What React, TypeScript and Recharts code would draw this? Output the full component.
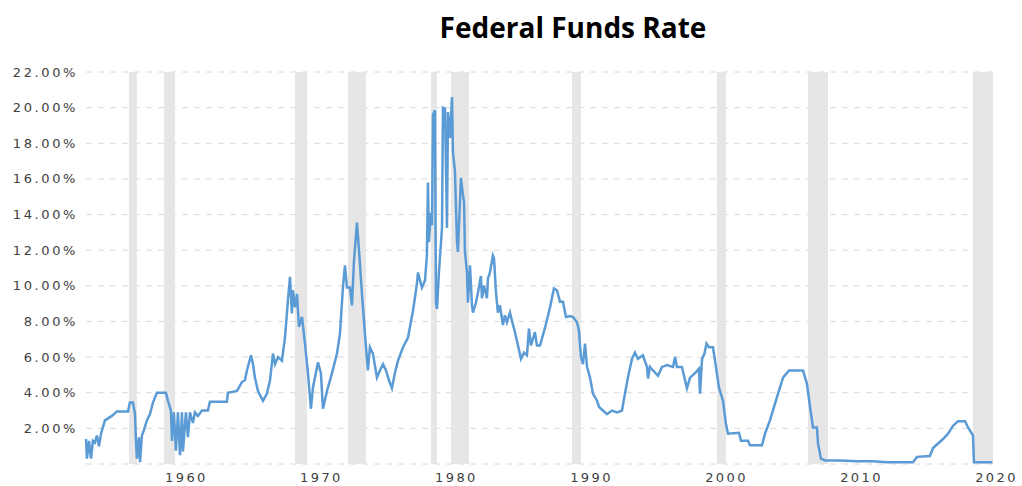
import React from 'react';
import { LineChart, Line, XAxis, YAxis, CartesianGrid, ReferenceArea } from 'recharts';

// Effective federal funds rate (decimal year, percent)
const YEARS = [
  1952.56, 1952.63, 1952.78, 1952.93, 1953.07, 1953.22, 1953.37, 1953.52, 1953.67, 1953.81,
  1953.96, 1954.48, 1954.85, 1955.67, 1955.81, 1956.04, 1956.19, 1956.26, 1956.33, 1956.48,
  1956.56, 1956.7, 1956.85, 1957.07, 1957.3, 1957.52, 1957.81, 1958.48, 1958.63, 1958.85,
  1958.93, 1959.07, 1959.22, 1959.37, 1959.52, 1959.67, 1959.74, 1959.96, 1960.11, 1960.26,
  1960.48, 1960.63, 1960.85, 1961.15, 1961.59, 1961.74, 1963.0, 1963.07, 1963.74, 1964.11,
  1964.33, 1964.48, 1964.78, 1964.93, 1965.07, 1965.3, 1965.67, 1965.96, 1966.19, 1966.41,
  1966.56, 1966.78, 1967.07, 1967.3, 1967.52, 1967.67, 1967.81, 1967.89, 1968.04, 1968.19,
  1968.33, 1968.56, 1968.78, 1969.0, 1969.22, 1969.37, 1969.74, 1969.96, 1970.11, 1970.41,
  1970.78, 1971.15, 1971.37, 1971.59, 1971.74, 1971.89, 1972.11, 1972.26, 1972.41, 1972.63,
  1972.78, 1973.0, 1973.22, 1973.44, 1973.59, 1973.81, 1974.11, 1974.33, 1974.56, 1974.78,
  1975.0, 1975.22, 1975.44, 1975.67, 1976.04, 1976.41, 1976.78, 1977.07, 1977.15, 1977.44,
  1977.67, 1977.81, 1977.89, 1977.96, 1978.11, 1978.19, 1978.26, 1978.41, 1978.48, 1978.56,
  1978.7, 1978.93, 1979.0, 1979.15, 1979.3, 1979.37, 1979.52, 1979.67, 1979.74, 1979.89,
  1980.04, 1980.11, 1980.33, 1980.48, 1980.56, 1980.63, 1980.78, 1980.85, 1981.0, 1981.15,
  1981.22, 1981.44, 1981.59, 1981.81, 1981.89, 1982.04, 1982.26, 1982.33, 1982.48, 1982.7,
  1982.78, 1982.93, 1983.07, 1983.22, 1983.44, 1983.59, 1983.74, 1983.96, 1984.19, 1984.33,
  1984.56, 1984.78, 1985.0, 1985.22, 1985.37, 1985.52, 1985.81, 1985.96, 1986.19, 1986.56,
  1986.93, 1987.22, 1987.44, 1987.67, 1987.89, 1988.11, 1988.41, 1988.63, 1988.93, 1989.07,
  1989.22, 1989.37, 1989.52, 1989.67, 1989.89, 1990.11, 1990.41, 1990.56, 1990.85, 1991.15,
  1991.52, 1991.89, 1992.26, 1992.48, 1992.7, 1993.0, 1993.22, 1993.44, 1993.81, 1994.11,
  1994.19, 1994.33, 1994.56, 1994.93, 1995.22, 1995.59, 1996.04, 1996.19, 1996.33, 1996.7,
  1997.07, 1997.3, 1997.67, 1997.96, 1998.04, 1998.19, 1998.37, 1998.52, 1998.7, 1999.0,
  1999.22, 1999.44, 1999.74, 1999.96, 2000.11, 2000.93, 2001.07, 2001.59, 2001.74, 2002.63,
  2002.85, 2003.22, 2003.74, 2004.19, 2004.63, 2005.67, 2005.96, 2006.19, 2006.41, 2006.7,
  2006.78, 2007.0, 2007.3, 2008.41, 2009.67, 2010.85, 2011.89, 2013.81, 2014.11, 2015.07,
  2015.3, 2015.67, 2016.04, 2016.41, 2016.78, 2017.15, 2017.67, 2017.89, 2018.26, 2018.33,
  2019.52, 2019.7,
];

const RATES = [
  1.4, 0.3, 1.3, 0.3, 1.3, 1.2, 1.6, 1.0, 1.7, 2.05,
  2.45, 2.7, 2.95, 2.95, 3.45, 3.45, 2.8, 1.3, 0.3, 1.5,
  0.1, 1.6, 1.9, 2.45, 2.8, 3.45, 4.0, 4.0, 3.55, 3.0,
  1.3, 2.9, 0.75, 2.9, 0.5, 2.9, 0.7, 2.9, 1.5, 2.9,
  2.3, 2.9, 2.7, 3.0, 3.0, 3.5, 3.5, 4.0, 4.1, 4.6,
  4.7, 5.25, 6.1, 5.6, 4.85, 4.1, 3.55, 3.95, 4.7, 6.2,
  5.6, 6.0, 5.8, 7.1, 9.2, 10.5, 8.45, 9.75, 8.8, 9.55,
  7.7, 8.25, 6.75, 5.1, 3.1, 4.3, 5.7, 5.1, 3.1, 4.1,
  5.1, 6.2, 7.3, 9.9, 11.15, 9.9, 9.9, 8.9, 11.4, 13.55,
  12.0, 9.55, 7.3, 5.25, 6.55, 6.2, 4.85, 5.25, 5.6, 5.25,
  4.7, 4.25, 5.1, 5.8, 6.55, 7.1, 8.6, 10.1, 10.75, 9.9,
  10.3, 11.7, 15.8, 12.45, 14.1, 13.4, 19.6, 19.85, 9.05, 8.7,
  10.75, 13.25, 20.0, 19.95, 13.25, 19.75, 18.3, 20.6, 17.5, 16.4,
  12.45, 11.9, 16.05, 15.1, 14.7, 11.9, 10.75, 9.05, 11.15, 8.9,
  8.5, 9.05, 9.6, 10.55, 9.3, 10.0, 9.3, 10.4, 10.75, 11.7,
  11.55, 9.6, 8.5, 8.9, 7.8, 8.35, 7.95, 8.5, 7.8, 7.4,
  6.65, 5.9, 6.25, 6.1, 7.6, 6.65, 7.4, 6.65, 6.65, 7.65,
  8.8, 9.85, 9.75, 9.1, 9.1, 8.25, 8.3, 8.25, 7.95, 7.5,
  6.0, 5.6, 6.75, 5.45, 4.85, 3.95, 3.55, 3.2, 3.0, 2.8,
  3.0, 2.9, 3.0, 3.95, 4.85, 5.9, 6.25, 5.9, 6.1, 5.45,
  4.8, 5.45, 5.25, 4.95, 5.45, 5.55, 5.45, 6.0, 5.45, 5.45,
  4.25, 4.85, 5.1, 5.35, 3.95, 5.9, 6.2, 6.75, 6.55, 6.55,
  5.45, 4.3, 3.55, 2.25, 1.7, 1.75, 1.3, 1.3, 1.05, 1.05,
  1.7, 2.45, 3.75, 4.85, 5.25, 5.25, 4.5, 3.2, 2.05, 2.05,
  1.15, 0.3, 0.2, 0.2, 0.15, 0.15, 0.1, 0.1, 0.4, 0.45,
  0.9, 1.15, 1.4, 1.7, 2.15, 2.4, 2.4, 2.05, 1.6, 0.1,
  0.1, 0.1,
];

// shaded recession bands (start / end year)
const BAND_START = [1955.74, 1958.33, 1968.04, 1971.96, 1978.11, 1979.59, 1988.56, 1999.3, 2006.04, 2018.26];
const BAND_END = [1956.33, 1959.15, 1968.93, 1973.3, 1978.56, 1980.93, 1989.22, 1999.96, 2007.52, 2019.74];

const X_TICKS = [1960, 1970, 1980, 1990, 2000, 2010, 2020];
const Y_TICKS = [0, 2, 4, 6, 8, 10, 12, 14, 16, 18, 20, 22];

const data = YEARS.map((year, i) => ({ year, rate: RATES[i] }));

const labelFont = '"DejaVu Sans", Verdana, sans-serif';

const YTick = ({ x, y, payload }: any) => {
  if (payload.value === 0) return null;
  return (
    <text x={x} y={y} dy={4.5} textAnchor="end" fill="#404040" fontSize={13} fontFamily={labelFont} letterSpacing={2.6}>
      {payload.value.toFixed(2)}%
    </text>
  );
};

const XTick = ({ x, y, payload }: any) => (
  <text x={x} y={y} dy={10} textAnchor="middle" fill="#404040" fontSize={13} fontFamily={labelFont} letterSpacing={2.4}>
    {payload.value}
  </text>
);

export default function App() {
  return (
    <div style={{ position: 'absolute', left: 0, top: 0, width: 1022, height: 486, background: '#fff' }}>
      <div
        style={{
          position: 'absolute',
          left: 0,
          width: 1146,
          top: 8,
          textAlign: 'center',
          fontFamily: '"Open Sans", sans-serif',
          fontWeight: 700,
          fontSize: 28,
          color: '#000',
        }}
      >
        Federal Funds Rate
      </div>
      <LineChart width={1022} height={486} data={data} margin={{ top: 72, right: 25.5, bottom: 0, left: 0 }}>
        {BAND_START.map((s, i) => (
          <ReferenceArea key={i} x1={s} x2={BAND_END[i]} y1={0} y2={22} fill="#e6e6e6" fillOpacity={1} stroke="none" ifOverflow="hidden" />
        ))}
        <CartesianGrid vertical={false} stroke="#dadada" strokeDasharray="6 6" />
        <XAxis
          dataKey="year"
          type="number"
          domain={[1952.56, 2020]}
          ticks={X_TICKS}
          axisLine={false}
          tickLine={false}
          height={22}
          tick={<XTick />}
        />
        <YAxis
          type="number"
          domain={[0, 22]}
          ticks={Y_TICKS}
          axisLine={false}
          tickLine={false}
          width={86}
          tick={<YTick />}
        />
        <Line type="linear" dataKey="rate" stroke="#5b9bd5" strokeWidth={2.5} dot={false} isAnimationActive={false} />
      </LineChart>
    </div>
  );
}
